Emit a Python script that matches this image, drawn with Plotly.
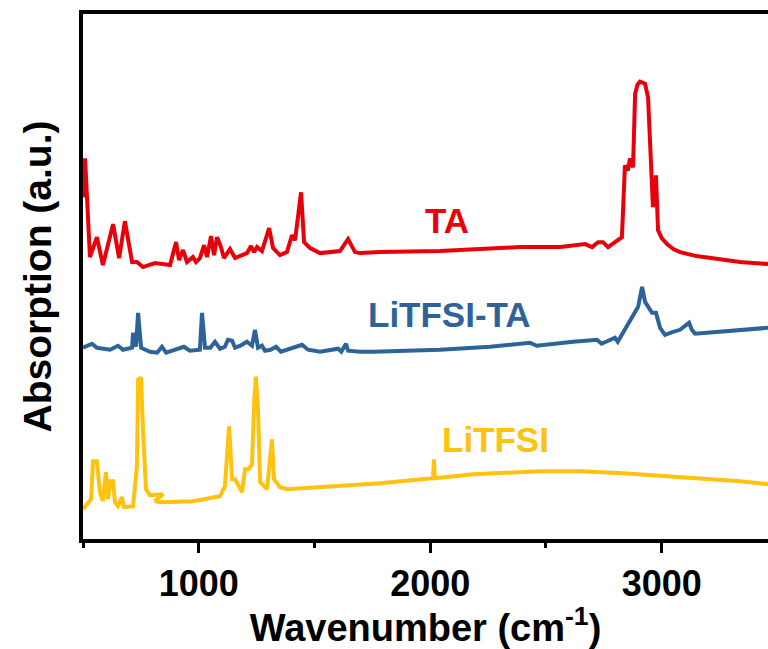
import plotly.graph_objects as go

# ---- data (wavenumber in cm^-1, absorption in arbitrary units) ----
ta_wn = [500, 509, 530, 560, 586, 630, 656, 681, 712, 733, 759, 811, 876, 902, 915, 932,
         949, 975, 988, 1005, 1023, 1036, 1053, 1066, 1079, 1096, 1109, 1135, 1157, 1208,
         1226, 1239, 1252, 1273, 1304, 1321, 1351, 1381, 1403, 1416, 1442, 1455, 1481,
         1524, 1610, 1645, 1675, 1697, 1783, 2042, 2388, 2561, 2669, 2699, 2725, 2746,
         2768, 2807, 2828, 2841, 2854, 2863, 2876, 2885, 2895, 2906, 2928, 2941, 2954, 2962,
         2975, 2984, 3000, 3023, 3050, 3079, 3150, 3209, 3338, 3459]
ta_abs = [343, 382, 283, 303, 275, 316, 282, 319, 278, 278, 273, 277, 275, 298, 280, 290,
          278, 283, 278, 282, 295, 283, 304, 285, 303, 293, 282, 291, 282, 287,
          294, 288, 293, 289, 312, 292, 285, 288, 305, 300, 348, 298, 292,
          287, 289, 301, 288, 287, 288, 289, 293, 293, 296, 293, 298, 298,
          293, 300, 303, 375, 370, 382, 373, 447, 456, 459, 457, 443, 363, 333,
          365, 310, 302, 296, 291, 288, 284, 282, 278, 276]

lt_wn = [500, 539, 560, 617, 651, 673, 712, 716, 729, 738, 751, 789, 820, 841, 859, 890,
         936, 962, 1005, 1014, 1027, 1050, 1070, 1092, 1113, 1126, 1144, 1157, 1180, 1208,
         1230, 1243, 1256, 1273, 1286, 1310, 1334, 1355, 1446, 1472, 1524, 1602, 1616,
         1636, 1645, 1697, 1753, 2042, 2258, 2431, 2460, 2617, 2720, 2740, 2798, 2810,
         2841, 2876, 2898, 2915, 2928, 2958, 2975, 2993, 3014, 3049, 3079, 3118, 3130,
         3144, 3196, 3338, 3459]
lt_abs = [192, 196, 192, 190, 194, 190, 192, 207, 193, 227, 192, 188, 187, 193, 187, 189,
          193, 189, 190, 227, 192, 192, 198, 191, 193, 200, 199, 192, 194, 198,
          194, 210, 192, 194, 189, 190, 193, 188, 195, 190, 188, 191, 188,
          196, 189, 188, 188, 190, 193, 197, 194, 198, 200, 196, 202, 198,
          210, 225, 233, 253, 238, 227, 227, 212, 205, 208, 210, 217, 210,
          206, 207, 209, 212]

li_wn = [500, 520, 535, 543, 560, 573, 586, 599, 608, 617, 630, 638, 651, 668, 677, 716,
         733, 738, 751, 759, 772, 789, 846, 811, 833, 975, 1092, 1113, 1131, 1144, 1157,
         1187, 1200, 1215, 1230, 1240, 1247, 1256, 1265, 1295, 1316, 1325, 1340, 1351,
         1381, 1554, 1697, 1783, 2012, 2016, 2020, 2185, 2474, 2650, 2833, 3049, 3338, 3459]
li_abs = [30, 35, 40, 78, 78, 47, 38, 67, 40, 58, 58, 37, 33, 42, 32, 33,
          73, 160, 162, 110, 50, 44, 45, 38, 37, 38, 43, 53, 113, 60, 60,
          47, 70, 70, 75, 140, 163, 130, 57, 50, 100, 60, 55, 52,
          50, 53, 55, 56, 61, 80, 61, 65, 68, 68, 66, 63, 58, 55]

series_names = ["TA", "LiTFSI-TA", "LiTFSI"]
series_colors = ["#E8000B", "#2E6399", "#FFC20E"]
label_x = [2072, 2081, 2284]
label_y = [320, 225, 100]

x_range = [500, 3459]
y_range = [0, 527]
x_tickvals = [1000, 2000, 3000]

FONT = "Liberation Sans, Arial, sans-serif"

fig = go.Figure()
for wn, ab, name, col in zip([ta_wn, lt_wn, li_wn], [ta_abs, lt_abs, li_abs],
                              series_names, series_colors):
    fig.add_trace(go.Scatter(x=wn, y=ab, mode="lines", name=name,
                             line=dict(color=col, width=4), showlegend=False))

for name, col, lx, ly in zip(series_names, series_colors, label_x, label_y):
    fig.add_annotation(x=lx, y=ly, text=f"<b>{name}</b>", showarrow=False,
                       font=dict(family=FONT, size=35, color=col),
                       xanchor="center", yanchor="middle")

fig.update_layout(
    width=768, height=649,
    margin=dict(l=83, r=0, t=14, b=110),
    plot_bgcolor="white", paper_bgcolor="white",
    font=dict(family=FONT, color="black"),
)
fig.update_xaxes(
    range=x_range, tickvals=x_tickvals, ticktext=[str(v) for v in x_tickvals],
    showgrid=False, zeroline=False,
    showline=True, linewidth=4, linecolor="black", mirror=True,
    ticks="outside", ticklen=10, tickwidth=3, tickcolor="black",
    minor=dict(tickvals=[500, 1500, 2500], ticks="outside", ticklen=5, tickwidth=3,
               tickcolor="black", showgrid=False),
    tickfont=dict(family=FONT, size=36, color="black", weight="bold"),
    title=dict(text="<b>Wavenumber (cm<sup>-1</sup>)</b>",
               font=dict(family=FONT, size=38, color="black"), standoff=0),
)
fig.update_yaxes(
    range=y_range, showticklabels=False, ticks="",
    showgrid=False, zeroline=False,
    showline=True, linewidth=4, linecolor="black", mirror=False,
    title=dict(text="<b>Absorption (a.u.)</b>",
               font=dict(family=FONT, size=39, color="black"), standoff=16),
)

fig.write_html("out.html")
